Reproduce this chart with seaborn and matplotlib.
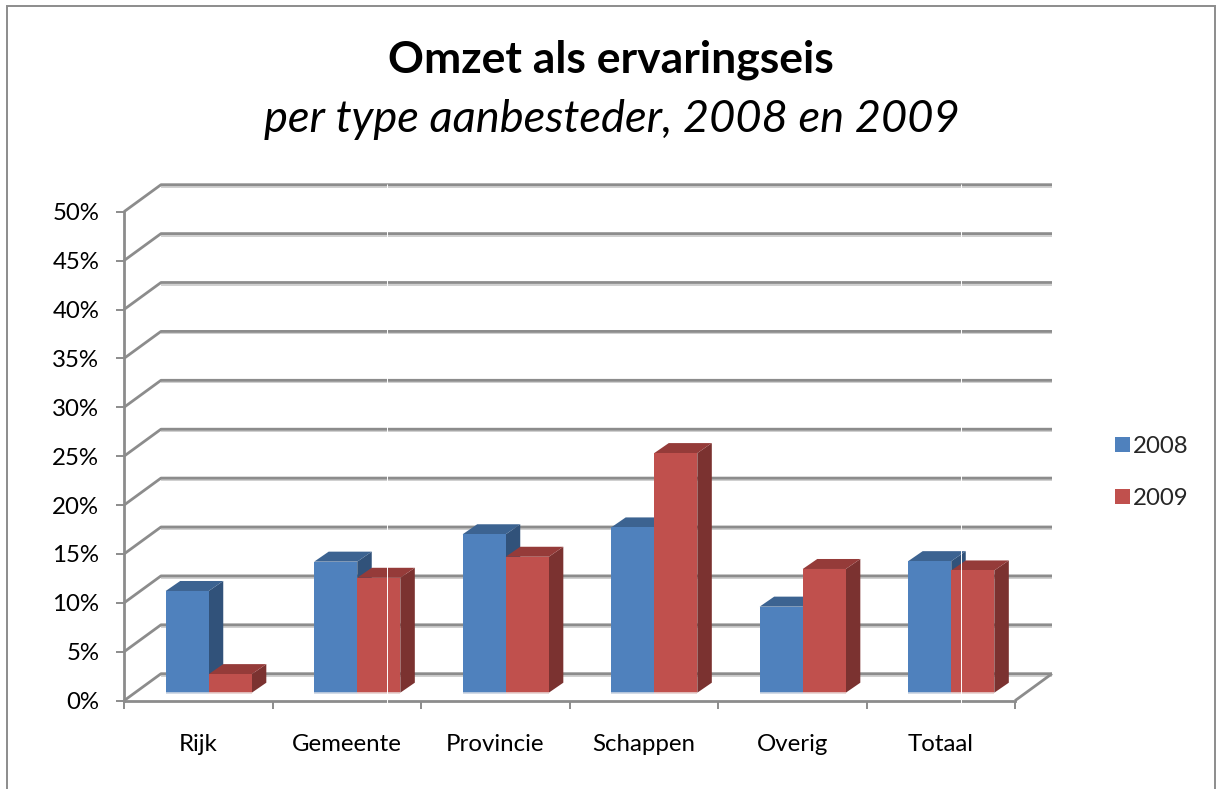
import matplotlib
matplotlib.use("Agg")
import matplotlib.pyplot as plt
import pandas as pd
import seaborn as sns
from matplotlib.lines import Line2D
from matplotlib.patches import Patch, Polygon, Rectangle
from matplotlib.transforms import Affine2D, IdentityTransform

# waarden
categories = ["Rijk", "Gemeente", "Provincie", "Schappen", "Overig", "Totaal"]
values_2008 = [10.4, 13.4, 16.2, 16.9, 8.8, 13.45]
values_2009 = [1.9, 11.75, 13.9, 24.5, 12.65, 12.5]
years = ["2008", "2009"]
y_ticks = [0, 5, 10, 15, 20, 25, 30, 35, 40, 45, 50]
y_labels = ["0%", "5%", "10%", "15%", "20%", "25%", "30%", "35%", "40%", "45%", "50%"]

# kleuren: voorkant, zijkant, bovenkant
front = {"2008": "#4f81bd", "2009": "#c0504d"}
side = {"2008": "#31527a", "2009": "#7b3230"}
top = {"2008": "#3c6391", "2009": "#953b39"}
grid_dark = "#8c8c8c"
grid_light = "#cfcfcf"

W, H = 1216, 789
wall_dx, wall_dy = 37, 27     # diepte van de achterwand
bar_dx, bar_dy = 10.5, 8      # balken staan iets naar achteren
depth_dx, depth_dy = 14.5, 10 # diepte van een balk

sns.set_theme(style="white")
plt.rcParams["font.family"] = ["Lato", "DejaVu Sans"]

df = pd.DataFrame({
    "type": categories * 2,
    "share": values_2008 + values_2009,
    "jaar": [years[0]] * 6 + [years[1]] * 6,
})

fig = plt.figure(figsize=(W / 100, H / 100), dpi=100)
ax = fig.add_axes([124 / W, (H - 700.7) / H, 891 / W, 489 / H])
ax.patch.set_alpha(0)

sns.barplot(data=df, x="type", y="share", hue="jaar", palette=front, width=0.58,
            gap=0, saturation=1, ax=ax, order=categories, hue_order=years, legend=False)
ax.set_xlim(-0.5, 5.5)
ax.set_ylim(0, 50)
ax.set_xlabel("")
ax.set_ylabel("")


def px(x, y):
    return ax.transData.transform((x, y))


def add_line(points, color, lw, z=1):
    xs, ys = zip(*points)
    ax.add_line(Line2D(xs, ys, color=color, lw=lw, transform=IdentityTransform(),
                       clip_on=False, zorder=z, solid_capstyle="butt"))


# wanden en vloer
for v in y_ticks:
    x0, y0 = px(-0.5, v)
    x1, y1 = px(5.5, v)
    add_line([(x0 + wall_dx, y0 + wall_dy - 2), (x1 + wall_dx, y1 + wall_dy - 2)], grid_light, 1.4)
    add_line([(x0, y0), (x0 + wall_dx, y0 + wall_dy), (x1 + wall_dx, y1 + wall_dy)], grid_dark, 2.0)
x1, y1 = px(5.5, 0)
add_line([(x1, y1), (x1 + wall_dx, y1 + wall_dy)], grid_dark, 2.0)

# balken met zij- en bovenkant, van links naar rechts
offset = Affine2D().translate(bar_dx, bar_dy)
bars = [p for p in ax.patches if p.get_height() > 0]
year_of = {}
for i, name in enumerate(years):
    for p in bars[i * len(categories):(i + 1) * len(categories)]:
        year_of[id(p)] = name
bars = sorted(bars, key=lambda p: p.get_x())
z = 3
for p in bars:
    name = year_of[id(p)]
    xa, ya = px(p.get_x(), 0)
    xb, yb = px(p.get_x() + p.get_width(), p.get_height())
    xa, xb = xa + bar_dx, xb + bar_dx
    ya, yb = ya + bar_dy, yb + bar_dy
    ax.add_patch(Polygon([(xb, ya), (xb + depth_dx, ya + depth_dy), (xb + depth_dx, yb + depth_dy), (xb, yb)],
                         closed=True, fc=side[name], ec="none", transform=IdentityTransform(),
                         clip_on=False, zorder=z))
    ax.add_patch(Polygon([(xa, yb), (xa + depth_dx, yb + depth_dy), (xb + depth_dx, yb + depth_dy), (xb, yb)],
                         closed=True, fc=top[name], ec="none", transform=IdentityTransform(),
                         clip_on=False, zorder=z))
    p.set_transform(ax.transData + offset)
    p.set_clip_on(False)
    p.set_linewidth(0)
    p.set_zorder(z + 0.5)
    # lichte rand onderaan
    add_line([(xa, ya - 0.5), (xb, ya - 0.5)], "#c9d3e2" if name == "2008" else "#e6cfce", 1.2, z + 0.6)
    z += 1

# witte krasjes uit de scan
for sx in [387, 961]:
    add_line([(sx, H - 184), (sx, H - 703)], "#ffffff", 0.7, 40)

# assen
ax.spines["top"].set_visible(False)
ax.spines["right"].set_visible(False)
for s in ["left", "bottom"]:
    ax.spines[s].set_color(grid_dark)
    ax.spines[s].set_linewidth(2.0)
ax.set_yticks(y_ticks)
ax.set_yticklabels(y_labels, fontsize=17.3, color="black")
ax.tick_params(axis="y", left=True, length=5.8, width=1.4, color=grid_dark, pad=12)
ax.set_xticks(range(len(categories)))
ax.set_xticklabels(categories, fontsize=17.3, color="black")
ax.set_xticks([i - 0.5 for i in range(len(categories) + 1)], minor=True)
ax.tick_params(axis="x", which="major", bottom=False, pad=18)
ax.tick_params(axis="x", which="minor", bottom=True, length=5.8, width=1.4, color=grid_dark)

# legenda
handles = [Patch(fc=front[y], ec="none", label=y) for y in years]
ax.legend(handles=handles, loc="upper left", bbox_to_anchor=(1115 / W, (H - 436) / H),
          bbox_transform=fig.transFigure, frameon=False, fontsize=17.3, handlelength=0.62,
          handleheight=0.62, handletextpad=0.12, labelspacing=1.28, borderpad=0, borderaxespad=0)

# titels
fig.text(611 / W, (H - 60) / H, "Omzet als ervaringseis", ha="center", va="center",
         fontsize=32, fontweight="bold", color="black")
fig.text(612 / W, (H - 119) / H, "per type aanbesteder, 2008 en 2009", ha="center", va="center",
         fontsize=32.6, fontstyle="italic", color="black")

# kader van de grafiek
fig.add_artist(Rectangle((7 / W, -0.05), (1215 - 7) / W, (H - 6) / H + 0.05, transform=fig.transFigure,
                         fill=False, ec=grid_dark, lw=1.4))

fig.savefig("out.png", dpi=100)
